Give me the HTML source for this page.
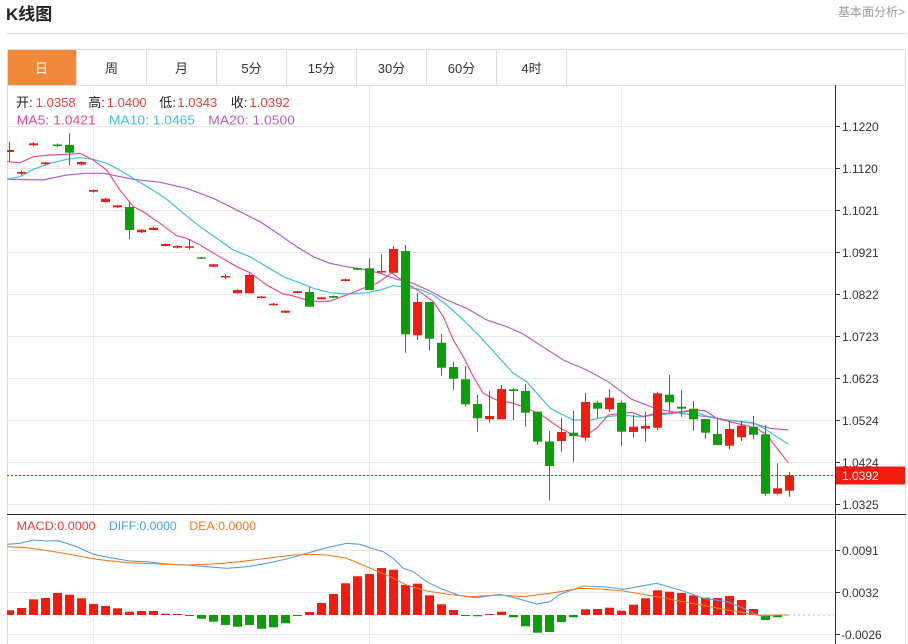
<!DOCTYPE html>
<html><head><meta charset="utf-8"><style>
html,body{margin:0;padding:0;background:#fff;}
svg{display:block;font-family:"Liberation Sans","Noto Sans CJK SC",sans-serif;}
</style></head><body>
<svg width="908" height="644" viewBox="0 0 908 644" xmlns="http://www.w3.org/2000/svg">
<defs><clipPath id="cp"><rect x="7" y="85" width="828" height="559"/></clipPath></defs>
<!-- header -->
<text x="6" y="20" font-size="17" font-weight="bold" fill="#222">K线图</text>
<text x="905" y="16" font-size="12" fill="#999" text-anchor="end">基本面分析&gt;</text>
<line x1="7" y1="33.5" x2="906" y2="33.5" stroke="#d6d6d6"/>
<!-- tabs -->
<rect x="7.5" y="49.5" width="898" height="36" fill="#fff" stroke="#ddd"/>
<rect x="8" y="50" width="68" height="35" fill="#f0883a"/>
<g stroke="#ddd"><line x1="76.5" y1="50" x2="76.5" y2="85"/><line x1="146.5" y1="50" x2="146.5" y2="85"/><line x1="216.5" y1="50" x2="216.5" y2="85"/><line x1="286.5" y1="50" x2="286.5" y2="85"/><line x1="356.5" y1="50" x2="356.5" y2="85"/><line x1="426.5" y1="50" x2="426.5" y2="85"/><line x1="496.5" y1="50" x2="496.5" y2="85"/><line x1="566.5" y1="50" x2="566.5" y2="85"/></g>
<g font-size="13" text-anchor="middle" fill="#333">
<text x="41.5" y="73" fill="#fff">日</text><text x="111.5" y="73">周</text><text x="181.5" y="73">月</text><text x="251.5" y="73">5分</text><text x="321.5" y="73">15分</text><text x="391.5" y="73">30分</text><text x="461.5" y="73">60分</text><text x="531.5" y="73">4时</text></g>
<!-- frame -->
<line x1="7.5" y1="85" x2="7.5" y2="644" stroke="#ddd"/>
<line x1="905.5" y1="85" x2="905.5" y2="644" stroke="#e4e4e4"/>
<!-- grid -->
<g stroke="#e8e8e8">
<line x1="7" y1="126.5" x2="835" y2="126.5"/><line x1="7" y1="168.5" x2="835" y2="168.5"/><line x1="7" y1="210.5" x2="835" y2="210.5"/><line x1="7" y1="252.5" x2="835" y2="252.5"/><line x1="7" y1="294.5" x2="835" y2="294.5"/><line x1="7" y1="336.5" x2="835" y2="336.5"/><line x1="7" y1="378.5" x2="835" y2="378.5"/><line x1="7" y1="420.5" x2="835" y2="420.5"/><line x1="7" y1="462.5" x2="835" y2="462.5"/><line x1="7" y1="504.5" x2="835" y2="504.5"/>
<line x1="7" y1="550.5" x2="835" y2="550.5"/><line x1="7" y1="592.5" x2="835" y2="592.5"/><line x1="7" y1="634.5" x2="835" y2="634.5"/>
<line x1="93.5" y1="85" x2="93.5" y2="644"/><line x1="369.5" y1="85" x2="369.5" y2="644"/><line x1="621.5" y1="85" x2="621.5" y2="644"/>
</g>
<!-- legend -->
<g font-size="13">
<text x="16" y="107" fill="#222">开:</text><text x="35.7" y="107" fill="#e8403c" textLength="40" lengthAdjust="spacingAndGlyphs">1.0358</text>
<text x="88.3" y="107" fill="#222">高:</text><text x="106.7" y="107" fill="#e8403c" textLength="40" lengthAdjust="spacingAndGlyphs">1.0400</text>
<text x="159.3" y="107" fill="#222">低:</text><text x="177.3" y="107" fill="#e8403c" textLength="40" lengthAdjust="spacingAndGlyphs">1.0343</text>
<text x="230.7" y="107" fill="#222">收:</text><text x="249.3" y="107" fill="#e8403c" textLength="40.5" lengthAdjust="spacingAndGlyphs">1.0392</text>
<text x="16.7" y="124.5" fill="#e64d8d" textLength="79" lengthAdjust="spacingAndGlyphs">MA5: 1.0421</text>
<text x="109" y="124.5" fill="#3ec1d3" textLength="86" lengthAdjust="spacingAndGlyphs">MA10: 1.0465</text>
<text x="208.3" y="124.5" fill="#b25fc9" textLength="86.7" lengthAdjust="spacingAndGlyphs">MA20: 1.0500</text>
</g>
<!-- MA lines -->
<g fill="none" stroke-width="1.2" clip-path="url(#cp)">
<polyline stroke="#b25fc9" points="7,179.3 43.3,180 66.7,175 86.7,173.3 103.3,173.3 133.3,179.3 160,182.3 186.7,188.3 213.3,198.3 233.3,208.3 260,221.7 280,235 296.7,246.7 313.3,256.7 330,263.3 346.7,266.7 363.3,269.3 380,273.3 396.7,279.3 413.3,283.3 430,291 446.7,300 466.7,308.3 486.7,320 506.7,326.7 523.3,334 540,345 563.3,360 586.7,370 608.3,381.7 631.7,399.3 655,408.3 680,413.3 706.7,416.7 726.7,420 753.3,423.3 770,428.3 788.3,430"/>
<polyline stroke="#3ec1d3" points="7,179.3 20,176.7 33.3,169.3 50,163.3 66.7,159.3 80,157.7 93.3,159.3 106.7,163.3 116.7,168.3 133.3,178.3 150,188.3 166.7,199.3 183.3,213.3 200,226.7 216.7,238.3 233.3,250 250,256.7 266.7,266.7 283.3,276.7 296.7,281.7 313.3,288.3 330,292.7 346.7,294 366.7,292.7 380,290 393.3,285.7 406.7,287.3 420,289.3 433.3,295 446.7,305 463.3,320 480,336.7 496.7,355 513.3,373.3 526.7,381.7 540,396.7 550,408 560,413.3 573.3,420 590,420 606.7,416.7 623.3,415 640,417 655,415 673.3,413.5 693.3,410.7 706.7,416 726.7,420 753.3,422.7 766.7,430 788.3,444.3"/>
<polyline stroke="#e64d8d" points="7,161.7 20,162.7 33.3,156.7 50,155 66.7,154.3 80,153.3 93.3,160 106.7,170 120,190 133.3,206.7 143.3,211.7 160,223.3 176.7,235.7 186.7,238.3 200,245 216.7,255 236.7,266.7 250,272.7 266.7,285 283.3,294 290,295 306.7,300 320,301.7 330,301 346.7,295 363.3,288.3 376.7,283.3 386.7,276.7 391.7,272.7 396.7,276.7 406.7,283.3 420,291.7 433.3,301.7 443.3,316.7 453.3,340 463.3,356.7 473.3,376.7 483.3,393.3 496.7,400 513.3,403.3 523.3,406.7 540,414 550,421 560,428 573.3,435 583.3,436.7 596.7,428.3 608.3,415 620,413.3 631.7,412.3 643.3,416.7 655,413.3 666.7,413.3 680,411.7 693.3,410 705,410.7 716.7,418.3 730,421.7 743.3,425 756.7,428.3 766.7,435 788.3,462.7"/>
</g>
<!-- candles -->
<g clip-path="url(#cp)">
<g stroke="#f21b0e" fill="#f21b0e" stroke-width="1">
<line x1="9.5" y1="141.7" x2="9.5" y2="161.7"/><rect x="5" y="150" width="9" height="2" stroke="none"/>
<line x1="21.5" y1="170.5" x2="21.5" y2="175"/><rect x="17" y="172" width="9" height="1.7" stroke="none"/>
<line x1="33.5" y1="142" x2="33.5" y2="146.5"/><rect x="29" y="143.3" width="9" height="2" stroke="none"/>
<line x1="45.5" y1="161.5" x2="45.5" y2="165"/><rect x="41" y="162.5" width="9" height="1.7" stroke="none"/>
<line x1="81.5" y1="161.5" x2="81.5" y2="165"/><rect x="77" y="162" width="9" height="2.5" stroke="none"/>
<line x1="93.5" y1="189.5" x2="93.5" y2="192.5"/><rect x="89" y="190" width="9" height="1.7" stroke="none"/>
<line x1="105.5" y1="198" x2="105.5" y2="202.5"/><rect x="101" y="198.7" width="9" height="3.3" stroke="none"/>
<line x1="117.5" y1="205" x2="117.5" y2="208"/><rect x="113" y="205.3" width="9" height="2" stroke="none"/>
<line x1="141.5" y1="229" x2="141.5" y2="233"/><rect x="137" y="229.7" width="9" height="2.6" stroke="none"/>
<line x1="153.5" y1="227" x2="153.5" y2="230.5"/><rect x="149" y="227.7" width="9" height="2.3" stroke="none"/>
<line x1="165.5" y1="243.5" x2="165.5" y2="246.5"/><rect x="161" y="244" width="9" height="2" stroke="none"/>
<line x1="177.5" y1="245" x2="177.5" y2="248.5"/><rect x="173" y="246" width="9" height="1.7" stroke="none"/>
<line x1="189.5" y1="239" x2="189.5" y2="249.3"/><rect x="185" y="246.3" width="9" height="1.5" stroke="none"/>
<line x1="213.5" y1="264" x2="213.5" y2="267"/><rect x="209" y="264.3" width="9" height="2.4" stroke="none"/>
<line x1="225.5" y1="274" x2="225.5" y2="279.3"/><rect x="221" y="276" width="9" height="1.5" stroke="none"/>
<line x1="237.5" y1="289.5" x2="237.5" y2="293.5"/><rect x="233" y="290" width="9" height="3.3" stroke="none"/>
<line x1="249.5" y1="273.3" x2="249.5" y2="293.5"/><rect x="245" y="275" width="9" height="18.3" stroke="none"/>
<line x1="261.5" y1="296" x2="261.5" y2="298.5"/><rect x="257" y="296.5" width="9" height="1.5" stroke="none"/>
<line x1="273.5" y1="303" x2="273.5" y2="305.5"/><rect x="269" y="303.7" width="9" height="1.6" stroke="none"/>
<line x1="285.5" y1="310.5" x2="285.5" y2="313"/><rect x="281" y="310.7" width="9" height="2" stroke="none"/>
<line x1="297.5" y1="291" x2="297.5" y2="293.5"/><rect x="293" y="291.3" width="9" height="1.7" stroke="none"/>
<line x1="321.5" y1="297" x2="321.5" y2="299.5"/><rect x="317" y="297.3" width="9" height="2" stroke="none"/>
<line x1="345.5" y1="278.5" x2="345.5" y2="281.5"/><rect x="341" y="279.3" width="9" height="1.7" stroke="none"/>
<line x1="381.5" y1="254.3" x2="381.5" y2="273.3"/><rect x="377" y="271" width="9" height="1.5" stroke="none"/>
<line x1="393.5" y1="245.7" x2="393.5" y2="272.7"/><rect x="389" y="249" width="9" height="23.7" stroke="none"/>
<line x1="417.5" y1="292.7" x2="417.5" y2="340"/><rect x="413" y="302" width="9" height="33.3" stroke="none"/>
<line x1="489.5" y1="391.3" x2="489.5" y2="422.7"/><rect x="485" y="416" width="9" height="3.3" stroke="none"/>
<line x1="501.5" y1="385" x2="501.5" y2="419.3"/><rect x="497" y="389" width="9" height="30.3" stroke="none"/>
<line x1="561.5" y1="417.7" x2="561.5" y2="451.7"/><rect x="557" y="432" width="9" height="9" stroke="none"/>
<line x1="585.5" y1="392.7" x2="585.5" y2="440.7"/><rect x="581" y="402" width="9" height="35.7" stroke="none"/>
<line x1="609.5" y1="389.3" x2="609.5" y2="411.7"/><rect x="605" y="397.7" width="9" height="11.6" stroke="none"/>
<line x1="633.5" y1="415" x2="633.5" y2="437.7"/><rect x="629" y="426.7" width="9" height="5.3" stroke="none"/>
<line x1="645.5" y1="411.7" x2="645.5" y2="441.7"/><rect x="641" y="426" width="9" height="2.7" stroke="none"/>
<line x1="657.5" y1="391.7" x2="657.5" y2="430"/><rect x="653" y="393.3" width="9" height="34.4" stroke="none"/>
<line x1="729.5" y1="421" x2="729.5" y2="449.3"/><rect x="725" y="429" width="9" height="16.7" stroke="none"/>
<line x1="741.5" y1="421" x2="741.5" y2="441"/><rect x="737" y="425.7" width="9" height="11.6" stroke="none"/>
<line x1="777.5" y1="463.3" x2="777.5" y2="494.7"/><rect x="773" y="488.3" width="9" height="5.4" stroke="none"/>
<line x1="789.5" y1="472" x2="789.5" y2="496.7"/><rect x="785" y="475.3" width="9" height="15.4" stroke="none"/>
</g>
<g stroke="#0a9e0a" fill="#0a9e0a" stroke-width="1">
<line x1="57.5" y1="143.5" x2="57.5" y2="147"/><rect x="53" y="144.5" width="9" height="1.5" stroke="none"/>
<line x1="69.5" y1="133.3" x2="69.5" y2="165"/><rect x="65" y="145" width="9" height="7.7" stroke="none"/>
<line x1="129.5" y1="201.7" x2="129.5" y2="239.3"/><rect x="125" y="207" width="9" height="23" stroke="none"/>
<line x1="201.5" y1="257" x2="201.5" y2="259"/><rect x="197" y="257.3" width="9" height="1.4" stroke="none"/>
<line x1="309.5" y1="287.3" x2="309.5" y2="306.7"/><rect x="305" y="292" width="9" height="14.7" stroke="none"/>
<line x1="333.5" y1="295.5" x2="333.5" y2="298"/><rect x="329" y="296" width="9" height="1.7" stroke="none"/>
<line x1="357.5" y1="267.5" x2="357.5" y2="270"/><rect x="353" y="268" width="9" height="1.7" stroke="none"/>
<line x1="369.5" y1="258.3" x2="369.5" y2="290"/><rect x="365" y="268.3" width="9" height="21.7" stroke="none"/>
<line x1="405.5" y1="245" x2="405.5" y2="352.7"/><rect x="401" y="251" width="9" height="83.3" stroke="none"/>
<line x1="429.5" y1="302" x2="429.5" y2="350.7"/><rect x="425" y="302" width="9" height="36.7" stroke="none"/>
<line x1="441.5" y1="334" x2="441.5" y2="375.7"/><rect x="437" y="342.7" width="9" height="25" stroke="none"/>
<line x1="453.5" y1="361.7" x2="453.5" y2="390"/><rect x="449" y="367" width="9" height="11.7" stroke="none"/>
<line x1="465.5" y1="366" x2="465.5" y2="406.7"/><rect x="461" y="379.3" width="9" height="25" stroke="none"/>
<line x1="477.5" y1="395" x2="477.5" y2="431.7"/><rect x="473" y="404" width="9" height="14.3" stroke="none"/>
<line x1="513.5" y1="388.3" x2="513.5" y2="420"/><rect x="509" y="389.3" width="9" height="1.7" stroke="none"/>
<line x1="525.5" y1="384" x2="525.5" y2="426.7"/><rect x="521" y="391" width="9" height="21.7" stroke="none"/>
<line x1="537.5" y1="411.7" x2="537.5" y2="445"/><rect x="533" y="411.7" width="9" height="30" stroke="none"/>
<line x1="549.5" y1="431" x2="549.5" y2="500.5"/><rect x="545" y="441.5" width="9" height="24.5" stroke="none"/>
<line x1="573.5" y1="411" x2="573.5" y2="461.7"/><rect x="569" y="432.7" width="9" height="3.3" stroke="none"/>
<line x1="597.5" y1="400.7" x2="597.5" y2="418.3"/><rect x="593" y="402.7" width="9" height="6" stroke="none"/>
<line x1="621.5" y1="400.7" x2="621.5" y2="446"/><rect x="617" y="402.7" width="9" height="29" stroke="none"/>
<line x1="669.5" y1="375" x2="669.5" y2="411.7"/><rect x="665" y="394.7" width="9" height="7.6" stroke="none"/>
<line x1="681.5" y1="390" x2="681.5" y2="416.7"/><rect x="677" y="406.7" width="9" height="2" stroke="none"/>
<line x1="693.5" y1="401" x2="693.5" y2="430.7"/><rect x="689" y="408.7" width="9" height="10.6" stroke="none"/>
<line x1="705.5" y1="419" x2="705.5" y2="438.7"/><rect x="701" y="419" width="9" height="13.7" stroke="none"/>
<line x1="717.5" y1="418.3" x2="717.5" y2="445"/><rect x="713" y="434" width="9" height="11" stroke="none"/>
<line x1="753.5" y1="416" x2="753.5" y2="439"/><rect x="749" y="426.7" width="9" height="8" stroke="none"/>
<line x1="765.5" y1="425" x2="765.5" y2="495.7"/><rect x="761" y="434.3" width="9" height="59.4" stroke="none"/>
</g>
</g>
<!-- current price line -->
<line x1="7" y1="475.5" x2="835" y2="475.5" stroke="#f21b0e" stroke-dasharray="2,2"/>
<!-- axes -->
<line x1="835.5" y1="85" x2="835.5" y2="644" stroke="#333"/>
<line x1="7" y1="514.5" x2="906" y2="514.5" stroke="#222"/>
<g stroke="#333"><line x1="835" y1="126.5" x2="840" y2="126.5"/><line x1="835" y1="168.5" x2="840" y2="168.5"/><line x1="835" y1="210.5" x2="840" y2="210.5"/><line x1="835" y1="252.5" x2="840" y2="252.5"/><line x1="835" y1="294.5" x2="840" y2="294.5"/><line x1="835" y1="336.5" x2="840" y2="336.5"/><line x1="835" y1="378.5" x2="840" y2="378.5"/><line x1="835" y1="420.5" x2="840" y2="420.5"/><line x1="835" y1="462.5" x2="840" y2="462.5"/><line x1="835" y1="504.5" x2="840" y2="504.5"/><line x1="835" y1="550.5" x2="840" y2="550.5"/><line x1="835" y1="592.5" x2="840" y2="592.5"/><line x1="835" y1="634.5" x2="840" y2="634.5"/></g>
<g font-size="12" fill="#333">
<text x="842" y="131">1.1220</text><text x="842" y="173">1.1120</text><text x="842" y="215">1.1021</text><text x="842" y="257">1.0921</text><text x="842" y="299">1.0822</text><text x="842" y="341">1.0723</text><text x="842" y="383">1.0623</text><text x="842" y="425">1.0524</text><text x="842" y="467">1.0424</text><text x="842" y="509">1.0325</text>
<text x="842" y="555">0.0091</text><text x="842" y="597">0.0032</text><text x="841" y="639">-0.0026</text>
</g>
<rect x="836" y="466.5" width="69" height="18" fill="#f21b0e"/>
<text x="842" y="480" font-size="12" fill="#fff">1.0392</text>
<!-- MACD legend -->
<g font-size="12">
<text x="16.7" y="530" fill="#e8403c" textLength="79" lengthAdjust="spacingAndGlyphs">MACD:0.0000</text>
<text x="109" y="530" fill="#4a9ee6" textLength="67.7" lengthAdjust="spacingAndGlyphs">DIFF:0.0000</text>
<text x="189.3" y="530" fill="#f07a22" textLength="66.7" lengthAdjust="spacingAndGlyphs">DEA:0.0000</text>
</g>
<line x1="788" y1="615" x2="834" y2="615" stroke="#a8b8cc" stroke-dasharray="2,3"/>
<!-- MACD bars -->
<g fill="#f21b0e">
<rect x="7" y="610.3" width="7" height="4.7"/><rect x="17" y="608" width="9" height="7"/><rect x="29" y="599.3" width="9" height="15.7"/><rect x="41" y="598" width="9" height="17"/><rect x="53" y="593" width="9" height="22"/><rect x="65" y="594.7" width="9" height="20.3"/><rect x="77" y="598.3" width="9" height="16.7"/><rect x="89" y="604" width="9" height="11"/><rect x="101" y="606" width="9" height="9"/><rect x="113" y="608.3" width="9" height="6.7"/><rect x="125" y="611.7" width="9" height="3.3"/><rect x="137" y="611" width="9" height="4"/><rect x="149" y="611" width="9" height="4"/><rect x="161" y="613.7" width="9" height="1.3"/><rect x="173" y="614" width="9" height="1"/>
<rect x="305" y="612" width="9" height="3"/><rect x="317" y="603" width="9" height="12"/><rect x="329" y="594" width="9" height="21"/><rect x="341" y="583.3" width="9" height="31.7"/><rect x="353" y="576.3" width="9" height="38.7"/><rect x="365" y="574" width="9" height="41"/><rect x="377" y="568" width="9" height="47"/><rect x="389" y="569.7" width="9" height="45.3"/><rect x="401" y="585" width="9" height="30"/><rect x="413" y="583.7" width="9" height="31.3"/><rect x="425" y="595.3" width="9" height="19.7"/><rect x="437" y="604.3" width="9" height="10.7"/><rect x="449" y="610" width="9" height="5"/>
<rect x="485" y="614" width="9" height="1"/><rect x="497" y="611.7" width="9" height="3.3"/>
<rect x="581" y="609.3" width="9" height="5.7"/><rect x="593" y="609" width="9" height="6"/><rect x="605" y="607.7" width="9" height="7.3"/><rect x="617" y="610.7" width="9" height="4.3"/><rect x="629" y="604.7" width="9" height="10.3"/><rect x="641" y="598.3" width="9" height="16.7"/><rect x="653" y="590.3" width="9" height="24.7"/><rect x="665" y="591.7" width="9" height="23.3"/><rect x="677" y="593" width="9" height="22"/><rect x="689" y="595.3" width="9" height="19.7"/><rect x="701" y="597.7" width="9" height="17.3"/><rect x="713" y="598" width="9" height="17"/><rect x="725" y="596" width="9" height="19"/><rect x="737" y="600" width="9" height="15"/><rect x="749" y="609" width="9" height="6"/>
</g>
<g fill="#0a9e0a">
<rect x="185" y="615" width="9" height="1"/><rect x="197" y="615" width="9" height="3.7"/><rect x="209" y="615" width="9" height="6.7"/><rect x="221" y="615" width="9" height="10"/><rect x="233" y="615" width="9" height="11.7"/><rect x="245" y="615" width="9" height="10"/><rect x="257" y="615" width="9" height="13.7"/><rect x="269" y="615" width="9" height="12.3"/><rect x="281" y="615" width="9" height="8.3"/><rect x="293" y="615" width="9" height="1"/>
<rect x="461" y="615" width="9" height="1"/><rect x="473" y="615" width="9" height="1.3"/>
<rect x="509" y="615" width="9" height="2.3"/><rect x="521" y="615" width="9" height="11.3"/><rect x="533" y="615" width="9" height="17.7"/><rect x="545" y="615" width="9" height="17"/><rect x="557" y="615" width="9" height="7"/><rect x="569" y="615" width="9" height="2.3"/>
<rect x="761" y="615" width="9" height="5"/><rect x="773" y="615" width="9" height="2.3"/>
</g>
<!-- DIFF / DEA -->
<g fill="none" stroke-width="1.1">
<polyline stroke="#5a9fe0" points="7,544.3 20,543.3 33.3,540 46.7,541 58.3,540.7 76.7,546.7 93.3,554.3 110,557.7 130,561 146.7,561.7 166.7,564 186.7,565 206.7,566.7 226.7,568.3 246.7,566.7 266.7,563.3 286.7,559 306.7,553.3 326.7,547.7 346.7,543.3 360,544.3 370,547.7 383.3,551.7 393.3,558.3 403.3,568.3 413.3,571.7 426.7,581.7 440,588.3 450,592 460,595.7 476.7,597.7 500,594.3 516.7,598.3 536.7,604 550,601.7 560,594.3 583.3,586 606.7,587 623.3,589.3 656.7,583.3 683.3,591 703.3,598.3 726.7,601.7 740,606.7 760,616 776.7,615 788.3,615"/>
<polyline stroke="#f07a22" points="7,546.7 26.7,547.7 50,551 73.3,555 96.7,559.3 126.7,562.7 160,564 186.7,565 213.3,564 240,561.7 266.7,558.3 293.3,555 313.3,554.3 326.7,555 346.7,558.3 366.7,566.7 386.7,575 406.7,585 426.7,591 450,594.5 470,596.7 500,595 523.3,596.7 550,593.3 580,588.3 600,589 623.3,591 656.7,596.7 683.3,601.7 710,606.7 736.7,611.7 756.7,615 788.3,615"/>
</g>
</svg>
</body></html>
